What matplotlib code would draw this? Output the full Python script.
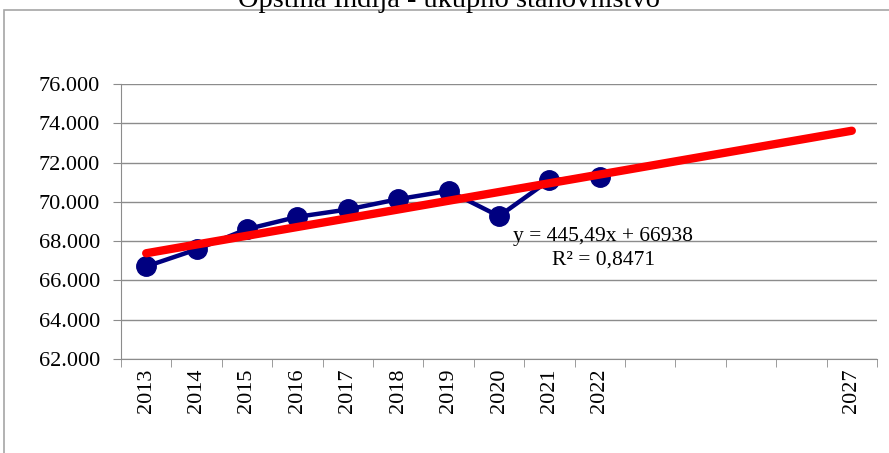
import matplotlib.pyplot as plt
from matplotlib.patches import Rectangle
import numpy as np

plt.rcParams['font.family'] = ['Liberation Serif', 'DejaVu Serif']

# data
years = ['2013', '2014', '2015', '2016', '2017', '2018', '2019', '2020', '2021', '2022',
         '', '', '', '', '2027']
population = [66712, 67578, 68611, 69237, 69613, 70137, 70560, 69272, 71104, 71270]
slope = 445.49     # trendline from the chart label
intercept = 66938
r2_text = 'R² = 0,8471'
eq_text = 'y = 445,49x + 66938'
title = 'Opština Inđija - ukupno stanovništvo'
yticks = [62000, 64000, 66000, 68000, 70000, 72000, 74000, 76000]

W, H = 889, 453
fig = plt.figure(figsize=(W/100, H/100), dpi=100)
ax = fig.add_axes([121/W, 94/H, 756/W, 275/H])

# outer chart frame (cut off at right / bottom like the original)
fig.patches.append(Rectangle((4/W, -0.1), 1.2, 1 - 10/H + 0.1, transform=fig.transFigure,
                             fill=False, edgecolor='#a6a6a6', linewidth=1.2))
fig.text(449/W, 1 - 7/H, title, ha='center', va='baseline', fontsize=20.5)

x = np.arange(len(population))
ax.plot(x, population, '-o', color='#000080', linewidth=3.2, markersize=14, zorder=3)

xt = np.arange(len(years))
trend = slope * (xt + 1) + intercept
ax.plot([xt[0], xt[-1]], [trend[0], trend[-1]], color='#ff0000', linewidth=6,
        solid_capstyle='round', zorder=4)

fig.text(603/W, 1 - 237/H, eq_text, fontsize=15.5, ha='center', va='center')
fig.text(603/W, 1 - 260/H, r2_text, fontsize=15.5, ha='center', va='center')

ax.set_xlim(-0.5, len(years) - 0.5)
ax.set_ylim(62000, 76000)
ax.set_yticks(yticks)
ax.set_yticklabels([f'{v:,}'.replace(',', '.') for v in yticks], fontsize=16)
ax.set_xticks(xt)
ax.set_xticklabels(years, rotation=90, fontsize=16)
ax.set_xticks(np.arange(len(years) + 1) - 0.5, minor=True)
ax.tick_params(axis='x', which='major', length=0, pad=7)
ax.tick_params(axis='x', which='minor', length=6, color='#8c8c8c')
ax.tick_params(axis='y', length=6, color='#8c8c8c', pad=9)
ax.grid(axis='y', color='#8c8c8c', linewidth=1)
ax.set_axisbelow(True)
for s in ['top', 'right']:
    ax.spines[s].set_visible(False)
for s in ['left', 'bottom']:
    ax.spines[s].set_color('#8c8c8c')

plt.savefig('out.png', dpi=100)
